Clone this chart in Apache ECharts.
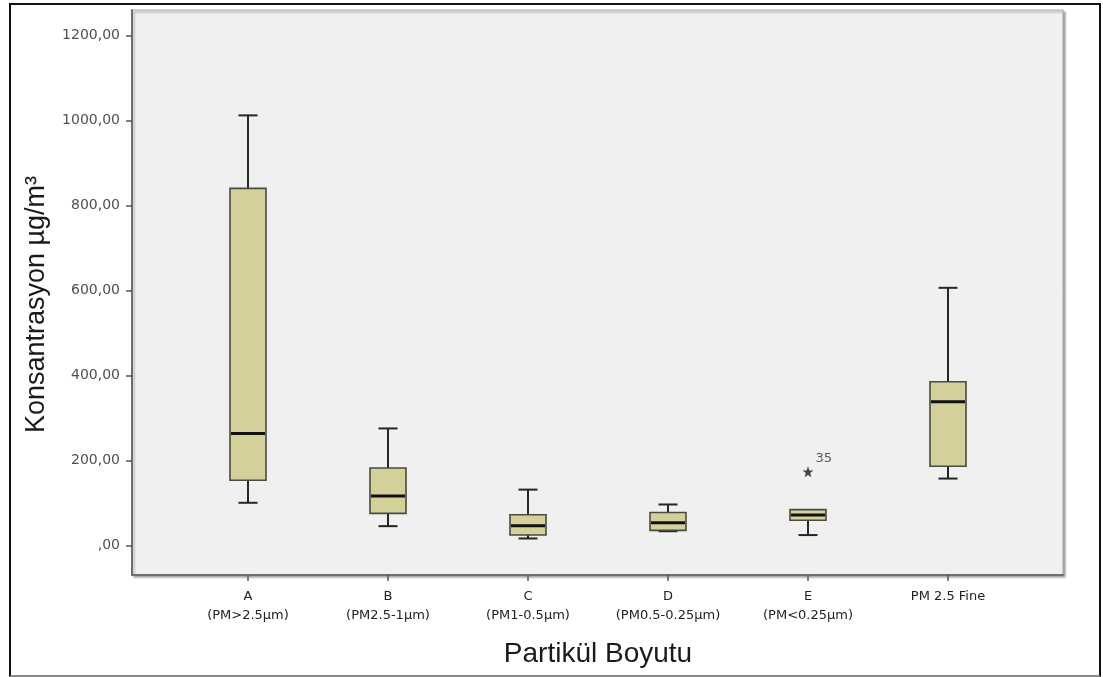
<!DOCTYPE html>
<html>
<head>
<meta charset="utf-8">
<script src="https://cdn.jsdelivr.net/npm/echarts@6/dist/echarts.min.js"></script>
<style>
  html, body { margin: 0; padding: 0; background: #fff; }
  #chart { position: absolute; left: 0; top: 0; width: 1103px; height: 677px; }
  #frame { position: absolute; left: 9px; top: 3px; width: 1092px; height: 674px;
           box-sizing: border-box; border: 2px solid #111; border-bottom-color: #8a8a8a;
           pointer-events: none; }
</style>
</head>
<body>
<div id="chart"></div>
<div id="frame"></div>
<script>
// Particle size groups
const categories = ['A', 'B', 'C', 'D', 'E', 'PM 2.5 Fine'];
const subLabels = ['(PM>2.5µm)', '(PM2.5-1µm)', '(PM1-0.5µm)', '(PM0.5-0.25µm)', '(PM<0.25µm)', ''];

// Five-number summaries (µg/m³)
const mins    = [100,  45,  16,  33,  24, 157];
const q1s     = [153,  75,  24,  35,  59, 186];
const medians = [263, 116,  46,  53,  71, 338];
const q3s     = [840, 182,  72,  77,  84, 385];
const maxs    = [1012, 275, 131, 96,  86, 606];

// Extreme values: [group index, value] and case id
const outliers = [[4, 173]];
const outlierIds = ['35'];

// Y axis ticks
const yTicks = [0, 200, 400, 600, 800, 1000, 1200];

const boxData = categories.map((c, i) => [i, mins[i], q1s[i], medians[i], q3s[i], maxs[i]]);

const BOX_W = 36, CAP_W = 19;
const FILL = '#d4d09a', EDGE = '#4a4a40', WHISKER = '#262626';

function renderBox(params, api) {
  const i = api.value(0);
  const pMin = api.coord([i, api.value(1)]);
  const pQ1 = api.coord([i, api.value(2)]);
  const pMed = api.coord([i, api.value(3)]);
  const pQ3 = api.coord([i, api.value(4)]);
  const pMax = api.coord([i, api.value(5)]);
  const cx = pMed[0];
  const wStyle = { stroke: WHISKER, lineWidth: 2 };
  const children = [];
  if (pMin[1] - pQ1[1] > 0.5) {
    children.push({ type: 'line', shape: { x1: cx, y1: pQ1[1], x2: cx, y2: pMin[1] }, style: wStyle });
    children.push({ type: 'line', shape: { x1: cx - CAP_W / 2, y1: pMin[1], x2: cx + CAP_W / 2, y2: pMin[1] }, style: wStyle });
  }
  if (pQ3[1] - pMax[1] > 2) {
    children.push({ type: 'line', shape: { x1: cx, y1: pQ3[1], x2: cx, y2: pMax[1] }, style: wStyle });
    children.push({ type: 'line', shape: { x1: cx - CAP_W / 2, y1: pMax[1], x2: cx + CAP_W / 2, y2: pMax[1] }, style: wStyle });
  }
  children.push({
    type: 'rect',
    shape: { x: cx - BOX_W / 2, y: pQ3[1], width: BOX_W, height: pQ1[1] - pQ3[1] },
    style: { fill: FILL, stroke: EDGE, lineWidth: 1.6 }
  });
  children.push({
    type: 'line',
    shape: { x1: cx - BOX_W / 2 + 1, y1: pMed[1], x2: cx + BOX_W / 2 - 1, y2: pMed[1] },
    style: { stroke: '#111', lineWidth: 3 }
  });
  return { type: 'group', children: children };
}

const STAR = 'path://M0,-10L2.35,-3.24L9.51,-3.09L3.8,1.24L5.88,8.09L0,4L-5.88,8.09L-3.8,1.24L-9.51,-3.09L-2.35,-3.24Z';

const chart = echarts.init(document.getElementById('chart'), null, { renderer: 'canvas' });
chart.setOption({
  animation: false,
  backgroundColor: '#ffffff',
  textStyle: { fontFamily: 'Liberation Sans, Arial, sans-serif' },
  grid: [
    { left: 132, top: 10, width: 931, height: 565, show: true,
      backgroundColor: '#f0f0f0', borderColor: '#a6a6a6', borderWidth: 1,
      shadowColor: 'rgba(0,0,0,0.35)', shadowBlur: 2, shadowOffsetX: 2, shadowOffsetY: 2 },
    { left: 178, top: 10, width: 840, height: 565 }
  ],
  xAxis: [
    { gridIndex: 0, type: 'value', min: 0, max: 1,
      axisLine: { show: true, onZero: false, lineStyle: { color: '#6e6e6e', width: 2 } },
      axisTick: { show: false }, axisLabel: { show: false }, splitLine: { show: false } },
    { gridIndex: 1, type: 'category', data: categories,
      axisLine: { show: false, onZero: false },
      axisTick: { show: true, alignWithLabel: true, length: 6, lineStyle: { color: '#555', width: 1.5 } },
      axisLabel: {
        margin: 12, color: '#222', fontSize: 13, lineHeight: 19,
        fontFamily: 'DejaVu Sans, sans-serif',
        formatter: (v, i) => subLabels[i] ? v + '\n' + subLabels[i] : v
      },
      name: 'Partikül Boyutu', nameLocation: 'middle', nameGap: 65,
      nameTextStyle: { fontSize: 28, color: '#1a1a1a', fontFamily: 'Liberation Sans, Arial, sans-serif' }
    }
  ],
  yAxis: [
    { gridIndex: 0, type: 'value', min: -70, max: 1260,
      axisLine: { show: true, onZero: false, lineStyle: { color: '#6e6e6e', width: 2 } },
      axisTick: { show: true, length: 6, customValues: yTicks, lineStyle: { color: '#555', width: 1.5 } },
      axisLabel: {
        customValues: yTicks, margin: 12, color: '#505050', fontSize: 14,
        fontFamily: 'DejaVu Sans, sans-serif',
        formatter: v => v === 0 ? ',00' : v.toFixed(2).replace('.', ',')
      },
      splitLine: { show: false },
      name: 'Konsantrasyon µg/m³', nameLocation: 'middle', nameGap: 82, nameRotate: 90,
      nameTextStyle: { fontSize: 27, color: '#1a1a1a', fontFamily: 'Liberation Sans, Arial, sans-serif',
                       padding: [0, 24, 0, 0] }
    },
    { gridIndex: 1, type: 'value', min: -70, max: 1260, show: false }
  ],
  series: [
    {
      type: 'custom', xAxisIndex: 1, yAxisIndex: 1,
      renderItem: renderBox,
      encode: { x: 0, y: [1, 2, 3, 4, 5] },
      data: boxData
    },
    {
      type: 'scatter', xAxisIndex: 1, yAxisIndex: 1,
      symbol: STAR, symbolSize: 11,
      itemStyle: { color: '#1a1a1a' },
      label: {
        show: true, position: 'right', distance: 2, offset: [0, -13],
        color: '#333', fontSize: 13, fontFamily: 'DejaVu Sans, sans-serif',
        formatter: p => outlierIds[p.dataIndex]
      },
      data: outliers
    }
  ]
});
</script>
</body>
</html>
